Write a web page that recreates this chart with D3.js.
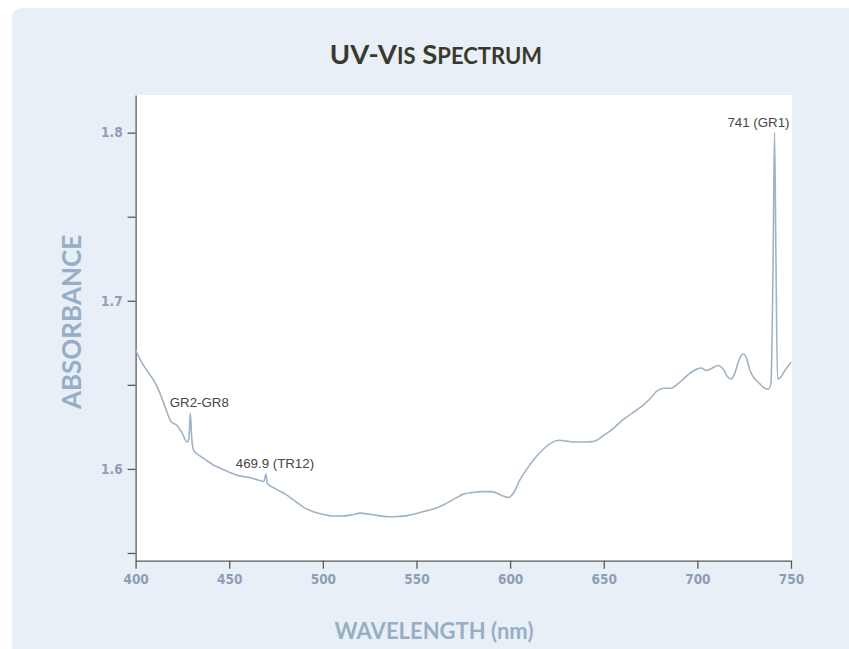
<!DOCTYPE html>
<html>
<head>
<meta charset="utf-8">
<script src="https://cdn.jsdelivr.net/npm/d3@7"></script>
<style>
  html, body { margin: 0; padding: 0; background: #ffffff; }
  svg { display: block; }
</style>
</head>
<body>
<svg id="chart" width="849" height="649"></svg>
<script>
// ---- data ----
const wavelength = [400, 402, 404, 407, 410, 413, 416, 419, 422, 425, 427.5, 428.5, 429.2, 430, 431, 434, 438, 442, 446, 450,
  455, 460, 465, 468.5, 469.6, 470.3, 475, 480, 485, 490, 495, 500, 505, 510, 515, 520, 525, 530, 535, 540,
  545, 550, 555, 560, 565, 570, 575, 580, 585, 590, 595, 599, 602, 605, 609, 613, 618, 622, 626, 630,
  635, 640, 645, 650, 655, 660, 665, 670, 675, 678, 682, 686, 690, 695, 700, 702, 705, 708, 711, 714,
  716, 718, 720, 722, 724.5, 726.5, 728, 730, 733, 736, 738, 739.3, 740.4, 741.2, 742, 742.8, 744, 747, 750];
const absorbance = [1.671, 1.666, 1.662, 1.657, 1.652, 1.645, 1.636, 1.628, 1.626, 1.621, 1.616, 1.618, 1.633, 1.618, 1.611, 1.608, 1.605, 1.602, 1.600, 1.598,
  1.596, 1.595, 1.5935, 1.5925, 1.597, 1.5915, 1.588, 1.585, 1.581, 1.577, 1.5745, 1.573, 1.572, 1.572, 1.5725, 1.5737, 1.573, 1.5722, 1.5715, 1.5717,
  1.5722, 1.5735, 1.575, 1.5765, 1.579, 1.582, 1.585, 1.586, 1.5865, 1.5865, 1.5845, 1.583, 1.586, 1.593, 1.600, 1.606, 1.612, 1.6155, 1.617, 1.6165,
  1.616, 1.616, 1.6165, 1.620, 1.624, 1.629, 1.633, 1.637, 1.642, 1.646, 1.648, 1.648, 1.651, 1.656, 1.6595, 1.660, 1.6585, 1.660, 1.6615, 1.659,
  1.655, 1.6535, 1.657, 1.664, 1.6685, 1.665, 1.659, 1.6545, 1.651, 1.648, 1.6475, 1.651, 1.72, 1.8, 1.72, 1.6535, 1.654, 1.659, 1.6635];

const xTicks = [400, 450, 500, 550, 600, 650, 700, 750];
const yTicks = [1.55, 1.6, 1.65, 1.7, 1.75, 1.8];
const yTickLabels = ["", "1.6", "", "1.7", "", "1.8"];

const peakLabels = ["GR2-GR8", "469.9 (TR12)", "741 (GR1)"];
const peakWavelength = [429.2, 469.6, 741.2];
const peakAbsorbance = [1.633, 1.597, 1.8];

// title split into large / small capitals
const titleParts = ["UV-V", "IS", " S", "PECTRUM"];
const titleIsSmall = [false, true, false, true];
const xTitle = "WAVELENGTH (nm)";
const yTitle = "ABSORBANCE";

// ---- layout ----
const svg = d3.select("#chart");
const plot = { left: 135.6, right: 791, top: 95, bottom: 560.7 };

// background panel
svg.append("path")
  .attr("d", "M12,18 Q12,8 22,8 L849,8 L849,649 L12,649 Z")
  .attr("fill", "#e9eff7");

svg.append("rect")
  .attr("x", plot.left).attr("y", plot.top)
  .attr("width", 792 - plot.left).attr("height", plot.bottom - plot.top)
  .attr("fill", "#ffffff");

const x = d3.scaleLinear().domain([400, 750]).range([plot.left, plot.right]);
const y = d3.scaleLinear().domain([1.5454, 1.8224]).range([plot.bottom, plot.top]);

const tickFont = "'DejaVu Sans Condensed', 'Liberation Sans Narrow', 'DejaVu Sans', sans-serif";

function styleTicks(sel) {
  sel.attr("fill", "#8d9fb4")
    .style("font-family", tickFont)
    .style("font-weight", "bold")
    .style("font-size", "13.5px")
    .style("font-stretch", "condensed");
}

// x axis
const xAxis = svg.append("g")
  .attr("transform", `translate(0,${plot.bottom})`)
  .call(d3.axisBottom(x).tickValues(xTicks).tickFormat(d3.format("d")).tickSize(8).tickSizeOuter(0).tickPadding(6));
xAxis.select(".domain").attr("stroke", "#5a5a5a").attr("stroke-width", 1.3);
xAxis.selectAll(".tick line").attr("stroke", "#5a5a5a").attr("stroke-width", 1.3);
styleTicks(xAxis.selectAll(".tick text"));

// y axis
const yAxis = svg.append("g")
  .attr("transform", `translate(${plot.left},0)`)
  .call(d3.axisLeft(y).tickValues(yTicks).tickFormat((d, i) => yTickLabels[i]).tickSize(8).tickSizeOuter(0).tickPadding(5));
yAxis.select(".domain").attr("stroke", "#5a5a5a").attr("stroke-width", 1.3);
yAxis.selectAll(".tick line").attr("stroke", "#5a5a5a").attr("stroke-width", 1.3);
styleTicks(yAxis.selectAll(".tick text"));

// spectrum line
const data = wavelength.map((w, i) => ({ w, a: absorbance[i] }));
const line = d3.line().x(d => x(d.w)).y(d => y(d.a)).curve(d3.curveMonotoneX);
svg.append("path")
  .datum(data)
  .attr("d", line)
  .attr("fill", "none")
  .attr("stroke", "#9fb3c7")
  .attr("stroke-width", 1.6)
  .attr("stroke-linejoin", "round");

// peak annotations
const labelDx = [9, 9, -16];
svg.append("g").selectAll("text")
  .data(peakLabels)
  .join("text")
  .attr("x", (d, i) => x(peakWavelength[i]) + labelDx[i])
  .attr("y", (d, i) => y(peakAbsorbance[i]) - 6)
  .attr("text-anchor", "middle")
  .style("font-family", "'Liberation Sans', Arial, sans-serif")
  .style("font-size", "13.3px")
  .attr("fill", "#454545")
  .text(d => d);

// title
const title = svg.append("text")
  .attr("x", 436).attr("y", 64)
  .attr("text-anchor", "middle")
  .style("font-family", "Lato, 'Open Sans', sans-serif")
  .style("font-weight", "bold")
  .attr("fill", "#3a3a2c");
title.selectAll("tspan")
  .data(titleParts)
  .join("tspan")
  .style("font-size", (d, i) => titleIsSmall[i] ? "22px" : "27.5px")
  .text(d => d);

// axis titles
svg.append("text")
  .attr("x", 434).attr("y", 639)
  .attr("text-anchor", "middle")
  .style("font-family", "Lato, 'Open Sans', sans-serif")
  .style("font-weight", "bold")
  .style("font-size", "22px")
  .attr("fill", "#97aec6")
  .text(xTitle);

svg.append("text")
  .attr("transform", "translate(81,322) rotate(-90)")
  .attr("text-anchor", "middle")
  .style("font-family", "Lato, 'Open Sans', sans-serif")
  .style("font-weight", "bold")
  .style("font-size", "26px")
  .attr("fill", "#97aec6")
  .text(yTitle);
</script>
</body>
</html>
